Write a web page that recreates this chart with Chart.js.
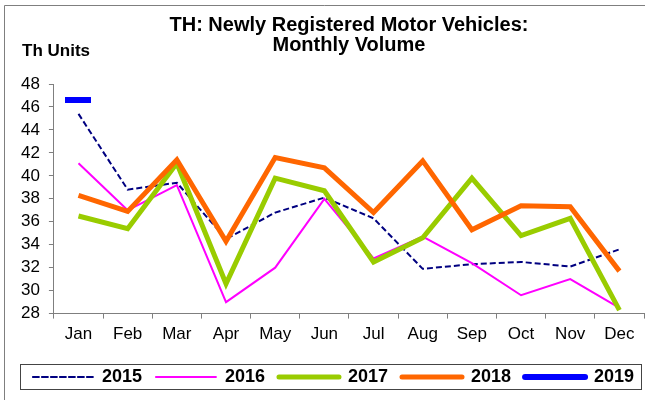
<!DOCTYPE html>
<html>
<head>
<meta charset="utf-8">
<script src="https://cdn.jsdelivr.net/npm/chart.js@4.4.1/dist/chart.umd.min.js"></script>
<style>
body{margin:0;background:#fff}
#wrap{width:645px;height:400px}
</style>
</head>
<body>
<div id="wrap"><canvas id="motorChart" width="645" height="400"></canvas></div>
<script>
const months = ["Jan","Feb","Mar","Apr","May","Jun","Jul","Aug","Sep","Oct","Nov","Dec"]

const y2015 = [45.4,38.8,39.4,34.5,36.8,38.1,36.3,31.9,32.3,32.5,32.1,33.6]
const y2016 = [41.1,37.0,39.2,29.0,32.0,38.0,32.8,34.7,32.4,29.6,31.0,28.5]
const y2017 = [36.5,35.4,41.1,30.6,39.8,38.7,32.5,34.6,39.8,34.8,36.3,28.3]
const y2018 = [38.3,36.9,41.4,34.3,41.6,40.7,36.8,41.3,35.3,37.4,37.3,31.7]
const y2019 = [46.6,null,null,null,null,null,null,null,null,null,null,null]

const yMin = 28
const yMax = 48
const yStep = 2

const titleLines = ["TH: Newly Registered Motor Vehicles:","Monthly Volume"]
const unitLabel = "Th Units"

const fontFamily = "Arial, 'Liberation Sans', sans-serif"

// short thick dash used as the 2019 marker
const dash = document.createElement("canvas")
dash.width = 26
dash.height = 6
let dctx = dash.getContext("2d")
dctx.fillStyle = "#0000ff"
dctx.fillRect(0,0,26,6)

// frame, unit label and legend border
const decorPlugin = {
id:"decor",
beforeDraw(chart){
let c = chart.ctx
c.save()
c.strokeStyle = "#7f7f7f"
c.lineWidth = 1
c.beginPath()
c.moveTo(4.5,400)
c.lineTo(4.5,5.5)
c.lineTo(645,5.5)
c.stroke()
c.restore()
},
afterDraw(chart){
let c = chart.ctx
c.save()
c.fillStyle = "#000"
c.font = "bold 17px " + fontFamily
c.textBaseline = "middle"
c.textAlign = "left"
c.fillText(unitLabel,22,51)
let lg = chart.legend
let hb = lg.legendHitBoxes[0]
let cy = hb ? hb.top + hb.height/2 : lg.top + lg.height/2
c.strokeStyle = "#444"
c.lineWidth = 1
c.strokeRect(20.5,Math.round(cy-13)+0.5,621,25)
c.restore()
}
}

const ctx = document.getElementById("motorChart")

const chart = new Chart(ctx,{
type:"line",
data:{
labels:months,
datasets:[
{label:"2015",data:y2015,borderColor:"#000080",borderWidth:2,borderDash:[6,3],pointRadius:0,pointHoverRadius:0,order:4},
{label:"2016",data:y2016,borderColor:"#ff00ff",borderWidth:2,pointRadius:0,pointHoverRadius:0,order:3},
{label:"2017",data:y2017,borderColor:"#99cc00",borderWidth:5,pointRadius:0,pointHoverRadius:0,order:2},
{label:"2018",data:y2018,borderColor:"#ff6600",borderWidth:5,pointRadius:0,pointHoverRadius:0,order:1},
{label:"2019",data:y2019,borderColor:"#0000ff",borderWidth:6,showLine:false,
pointStyle:dash,pointRadius:1,pointHoverRadius:1,pointBorderWidth:0,order:0}
]
},
options:{
responsive:false,
animation:false,
events:[],
layout:{padding:{left:12,right:-10,top:0,bottom:4}},
plugins:{
tooltip:{enabled:false},
title:{
display:true,
fullSize:false,
text:titleLines,
color:"#000",
font:{family:fontFamily,size:20,weight:"bold",lineHeight:1.0},
padding:{top:15,bottom:29}
},
legend:{
position:"bottom",
labels:{
usePointStyle:true,
pointStyleWidth:60,
boxWidth:60,
padding:14,
color:"#000",
font:{family:fontFamily,size:18,weight:"bold"},
generateLabels(ch){
return ch.data.datasets.map(function(ds,i){
return {
text:ds.label,
fillStyle:ds.borderColor,
strokeStyle:ds.borderColor,
lineWidth:ds.borderWidth,
lineDash:ds.borderDash || [],
lineCap:"round",
pointStyle:"line",
hidden:false,
datasetIndex:i
}
})
}
}
}
},
scales:{
x:{
offset:true,
afterFit(scale){ scale.height += 3 },
border:{color:"#7f7f7f",width:1},
grid:{offset:true,drawOnChartArea:false,drawTicks:true,tickLength:5,color:"#7f7f7f"},
ticks:{color:"#000",padding:6,autoSkip:false,font:{family:fontFamily,size:17}}
},
y:{
min:yMin,
max:yMax,
border:{color:"#7f7f7f",width:1},
grid:{drawOnChartArea:false,drawTicks:true,tickLength:5,color:"#7f7f7f"},
ticks:{stepSize:yStep,autoSkip:false,color:"#000",padding:9,font:{family:fontFamily,size:17}}
}
}
},
plugins:[decorPlugin]
})
</script>
</body>
</html>
